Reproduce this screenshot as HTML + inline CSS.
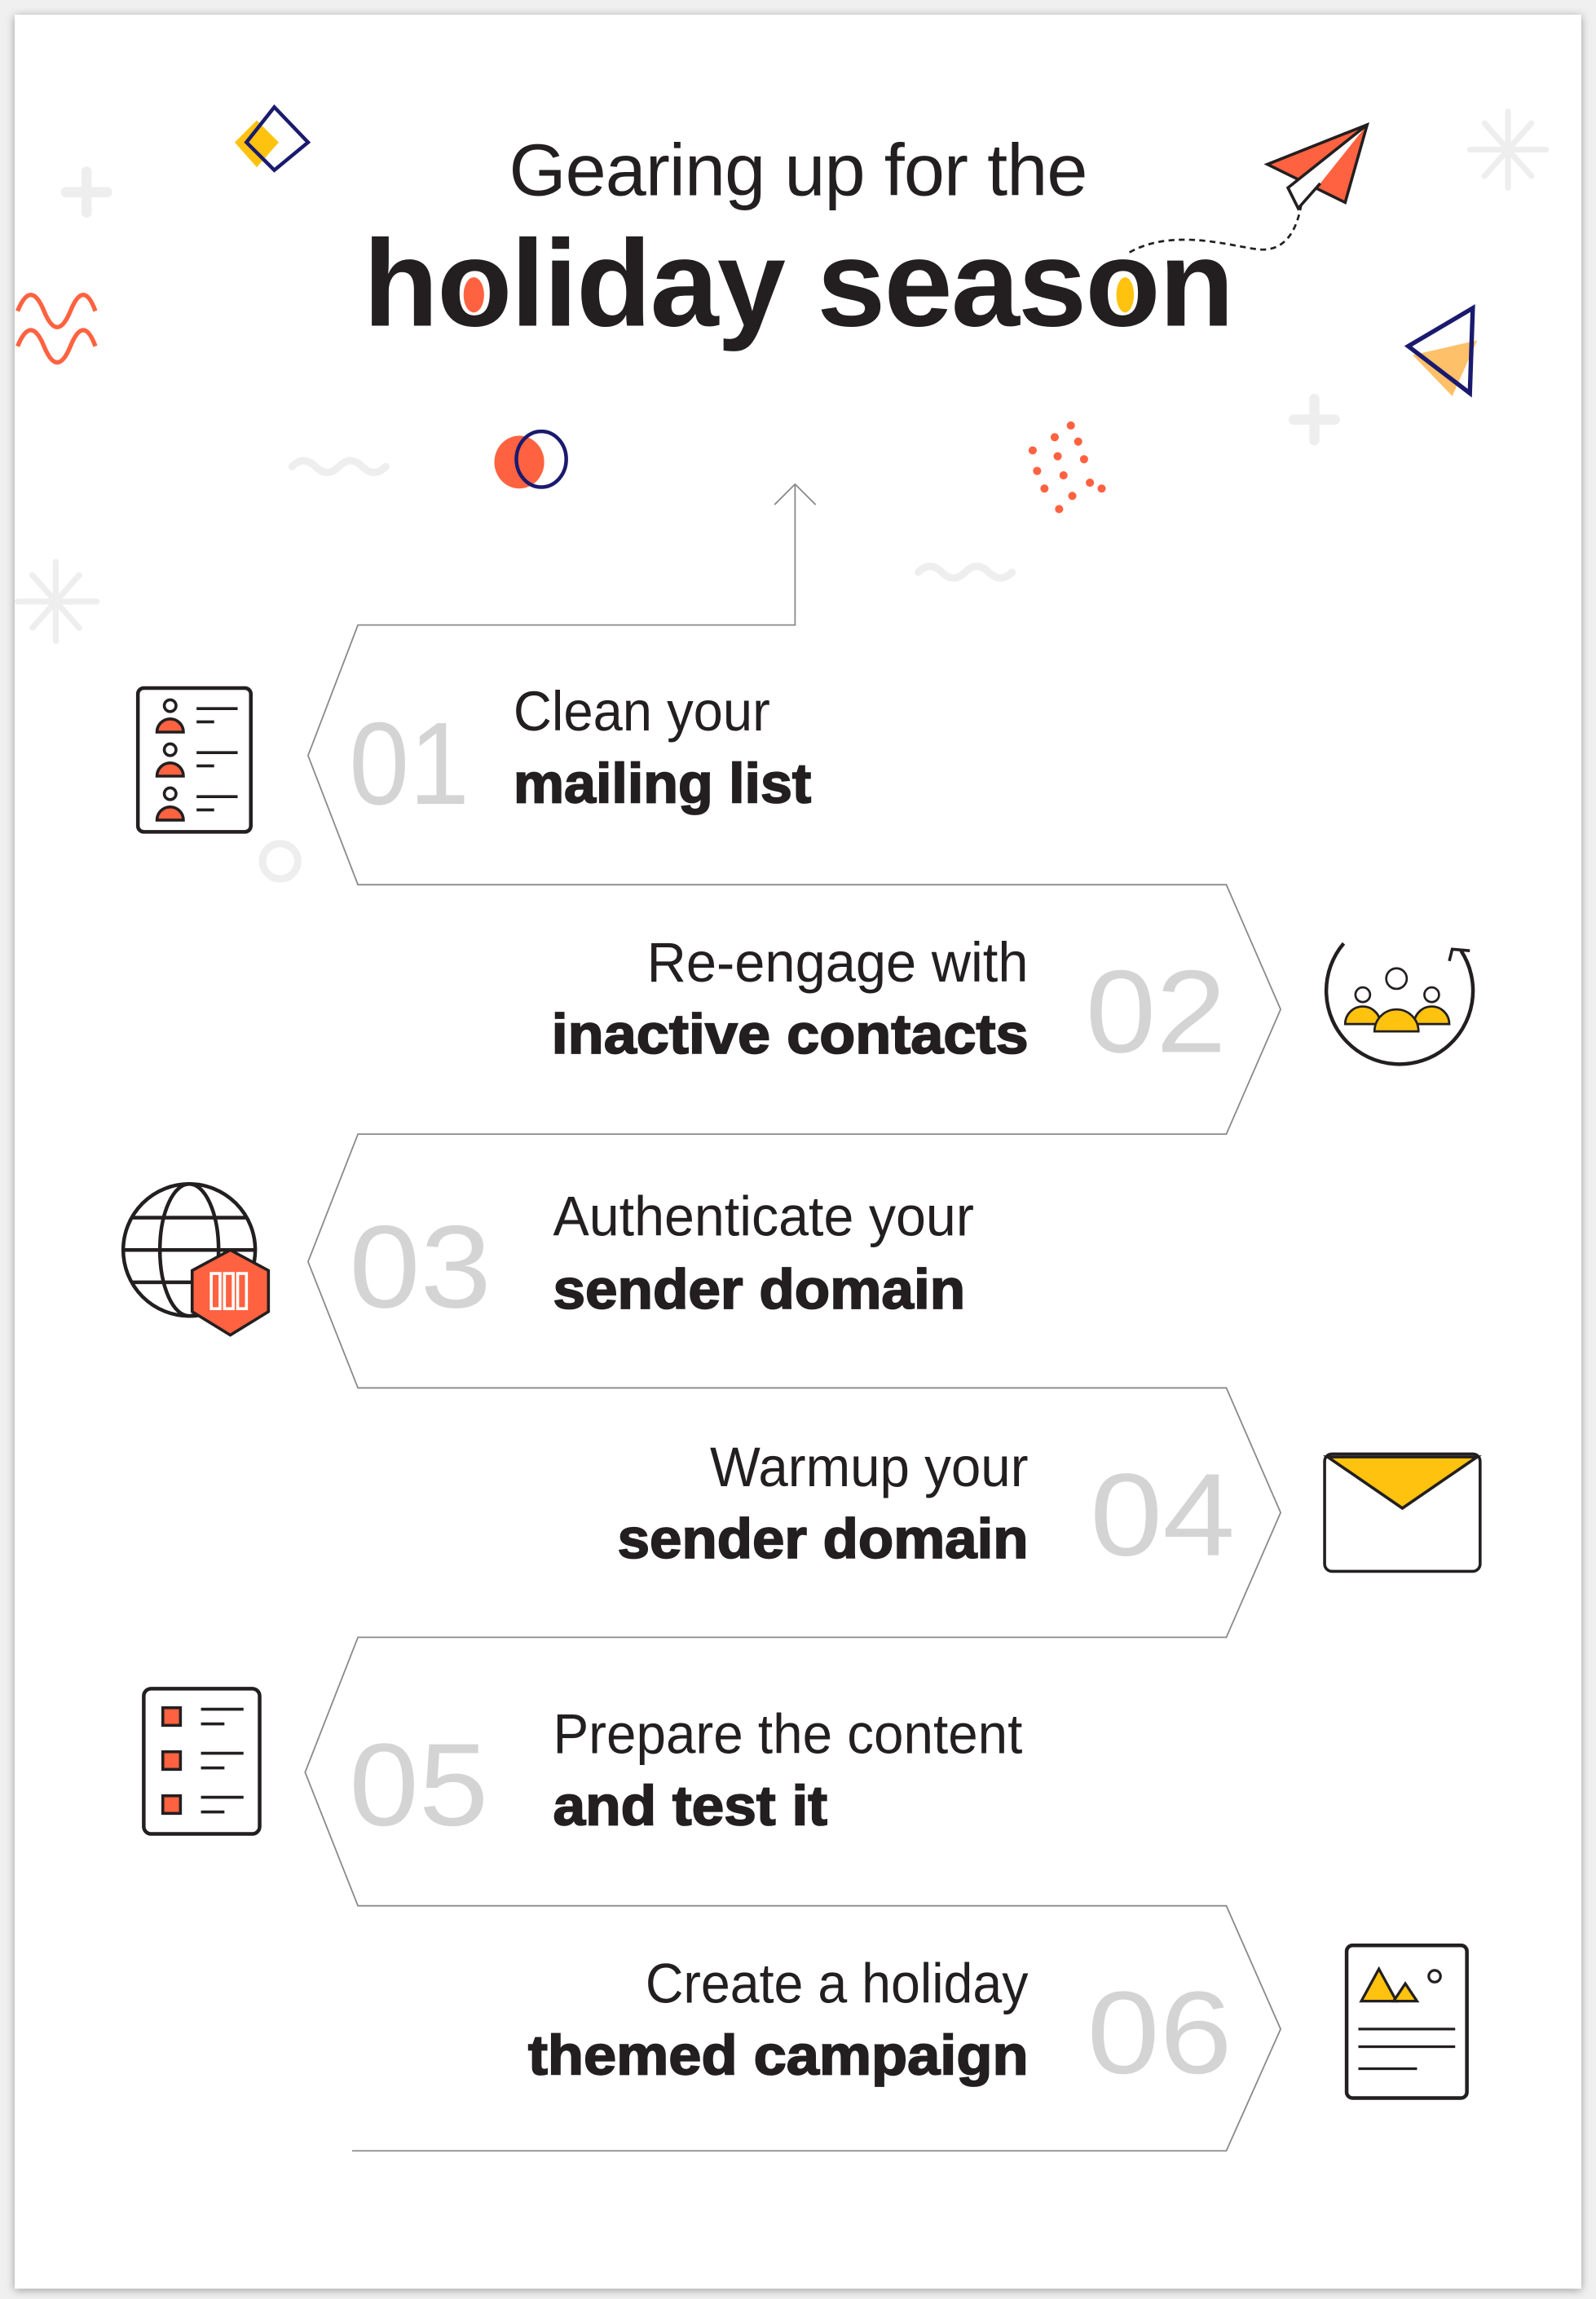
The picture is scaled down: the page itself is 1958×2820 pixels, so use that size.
<!DOCTYPE html>
<html><head><meta charset="utf-8"><style>
html,body{margin:0;padding:0;background:#ececec;}
svg{display:block;}
text{font-family:"Liberation Sans",sans-serif;}
</style></head><body>
<svg width="1958" height="2820" viewBox="0 0 1088 1567" preserveAspectRatio="none" xmlns="http://www.w3.org/2000/svg">
<defs>
<filter id="sh" x="-5%" y="-5%" width="110%" height="110%"><feGaussianBlur stdDeviation="3"/></filter>
</defs>
<rect x="0" y="0" width="1088" height="1567" fill="#f0f0f0"/>
<rect x="10" y="11" width="1068" height="1550" fill="#9a9a9a" filter="url(#sh)"/>
<rect x="10" y="10" width="1068" height="1550" fill="#ffffff"/>

<!-- title -->
<text x="544" y="133" font-size="50" text-anchor="middle" fill="#231f20" font-weight="300" letter-spacing="-0.5">Gearing up for the</text>
<text x="544" y="222" font-size="84" text-anchor="middle" fill="#231f20" font-weight="bold" letter-spacing="-1">holiday season</text>
<ellipse cx="323" cy="201" rx="7" ry="12" fill="#ff6240"/>
<ellipse cx="767" cy="201" rx="6" ry="12" fill="#ffc20e"/>

<!-- decorations -->
<polygon points="175,82 190,97 175,114 160,97" fill="#ffc20e"/>
<polygon points="187,73 210,97 187,116 168,97" fill="none" stroke="#1a1a6e" stroke-width="2.5"/>
<g stroke="#eeeeee" stroke-width="7" stroke-linecap="round"><line x1="59" y1="117" x2="59" y2="145"/><line x1="45" y1="131" x2="73" y2="131"/>
<line x1="896" y1="272" x2="896" y2="300"/><line x1="882" y1="286" x2="910" y2="286"/></g>
<path d="M12,212 q9,-22 18,0 q9,22 18,0 q9,-22 17,0 M12,236 q9,-22 18,0 q9,22 18,0 q9,-22 17,0" fill="none" stroke="#ff6240" stroke-width="3"/>
<g stroke="#eeeeee" stroke-width="4" stroke-linecap="round">
<line x1="1028" y1="76" x2="1028" y2="128"/><line x1="1002" y1="102" x2="1054" y2="102"/><line x1="1012" y1="84" x2="1044" y2="120"/><line x1="1044" y1="84" x2="1012" y2="120"/>
<line x1="38" y1="383" x2="38" y2="437"/><line x1="12" y1="410" x2="66" y2="410"/><line x1="22" y1="392" x2="54" y2="428"/><line x1="54" y1="392" x2="22" y2="428"/>
</g>
<g fill="none" stroke="#eeeeee" stroke-width="5" stroke-linecap="round">
<path d="M199,318 q8,-8 16,0 q8,8 16,0 q8,-8 16,0 q8,8 16,0"/>
<path d="M626,390 q8,-8 16,0 q8,8 16,0 q8,-8 16,0 q8,8 16,0"/>
<circle cx="191" cy="587" r="12"/>
</g>
<!-- plane -->
<path d="M770,172 C800,155 840,168 858,170 C880,172 885,150 887,140" fill="none" stroke="#231f20" stroke-width="1.5" stroke-dasharray="4,3"/>
<polygon points="864,112 932,85 917,138" fill="#ff6240" stroke="#231f20" stroke-width="2"/>
<polyline points="932,85 878,128 885,142 900,125" fill="#fff" stroke="#231f20" stroke-width="2"/>
<!-- triangle -->
<polygon points="1007,232 990,270 963,242" fill="#ffc06a"/>
<polygon points="1004,210 1002,268 960,236" fill="none" stroke="#1a1a6e" stroke-width="3"/>
<!-- circles -->
<ellipse cx="354" cy="315" rx="17" ry="18" fill="#ff6240"/>
<ellipse cx="369" cy="313" rx="17" ry="19" fill="none" stroke="#1a1a6e" stroke-width="2.5"/>
<g fill="#ff6240">
<circle cx="730" cy="290" r="2.8"/><circle cx="719" cy="298" r="2.8"/><circle cx="735" cy="301" r="2.8"/><circle cx="704" cy="307" r="2.8"/><circle cx="721" cy="311" r="2.8"/><circle cx="739" cy="313" r="2.8"/><circle cx="707" cy="321" r="2.8"/><circle cx="725" cy="324" r="2.8"/><circle cx="743" cy="329" r="2.8"/><circle cx="712" cy="333" r="2.8"/><circle cx="731" cy="338" r="2.8"/><circle cx="751" cy="333" r="2.8"/><circle cx="722" cy="347" r="2.8"/>
</g>

<!-- zigzag -->
<g fill="none" stroke="#8a8a8a" stroke-width="1">
<polyline points="542,330 542,426 244,426 210,515 244,603 836,603 873,688 836,773 244,773 210,860 244,946 836,946 873,1031 836,1116 244,1116 208,1208 244,1299 836,1299 873,1383 836,1466 240,1466"/>
<polyline points="528,344 542,330 556,344"/>
</g>

<!-- numbers -->
<g fill="#d4d4d4" font-size="80" lengthAdjust="spacingAndGlyphs">
<text x="238" y="548" textLength="82" lengthAdjust="spacingAndGlyphs">01</text>
<text x="740" y="717" textLength="96" lengthAdjust="spacingAndGlyphs">02</text>
<text x="238" y="891" textLength="97" lengthAdjust="spacingAndGlyphs">03</text>
<text x="743" y="1060" textLength="99" lengthAdjust="spacingAndGlyphs">04</text>
<text x="238" y="1244" textLength="95" lengthAdjust="spacingAndGlyphs">05</text>
<text x="741" y="1413" textLength="99" lengthAdjust="spacingAndGlyphs">06</text>
</g>
<g fill="#231f20" font-size="38">
<text x="350" y="498" textLength="175" lengthAdjust="spacingAndGlyphs">Clean your</text>
<text x="441" y="669" textLength="260" lengthAdjust="spacingAndGlyphs">Re-engage with</text>
<text x="377" y="842" textLength="287" lengthAdjust="spacingAndGlyphs">Authenticate your</text>
<text x="484" y="1013" textLength="217" lengthAdjust="spacingAndGlyphs">Warmup your</text>
<text x="377" y="1195" textLength="320" lengthAdjust="spacingAndGlyphs">Prepare the content</text>
<text x="440" y="1365" textLength="261" lengthAdjust="spacingAndGlyphs">Create a holiday</text>
</g>
<g fill="#231f20" font-size="38" font-weight="bold" stroke="#231f20" stroke-width="1">
<text x="350" y="547" textLength="203" lengthAdjust="spacingAndGlyphs">mailing list</text>
<text x="376" y="718" textLength="325" lengthAdjust="spacingAndGlyphs">inactive contacts</text>
<text x="377" y="892" textLength="281" lengthAdjust="spacingAndGlyphs">sender domain</text>
<text x="421" y="1062" textLength="280" lengthAdjust="spacingAndGlyphs">sender domain</text>
<text x="377" y="1244" textLength="187" lengthAdjust="spacingAndGlyphs">and test it</text>
<text x="360" y="1414" textLength="341" lengthAdjust="spacingAndGlyphs">themed campaign</text>
</g>

<!-- icon 1 -->
<rect x="94" y="469" width="77" height="98" rx="4" fill="#fff" stroke="#231f20" stroke-width="2.5"/>
<g stroke="#231f20" stroke-width="2">
<circle cx="116" cy="481" r="4" fill="#fff"/><path d="M107,499 a9,9 0 0 1 18,0 z" fill="#ff6240"/>
<circle cx="116" cy="511" r="4" fill="#fff"/><path d="M107,529 a9,9 0 0 1 18,0 z" fill="#ff6240"/>
<circle cx="116" cy="541" r="4" fill="#fff"/><path d="M107,559 a9,9 0 0 1 18,0 z" fill="#ff6240"/>
<line x1="134" y1="483" x2="162" y2="483"/><line x1="134" y1="492" x2="146" y2="492"/>
<line x1="134" y1="513" x2="162" y2="513"/><line x1="134" y1="522" x2="146" y2="522"/>
<line x1="134" y1="543" x2="162" y2="543"/><line x1="134" y1="552" x2="146" y2="552"/>
</g>
<!-- icon 2 -->
<path d="M916,643 A50,50 0 1 0 996,648" fill="none" stroke="#231f20" stroke-width="2.5"/>
<polyline points="988,655 990,647 1002,648" fill="none" stroke="#231f20" stroke-width="2"/>
<g stroke="#231f20" stroke-width="1.5">
<circle cx="929" cy="678" r="5" fill="#fff"/><circle cx="976" cy="678" r="5" fill="#fff"/><circle cx="952" cy="667" r="7" fill="#fff"/>
<path d="M917,698 a12,12 0 0 1 24,0 z" fill="#ffc20e"/><path d="M964,698 a12,12 0 0 1 24,0 z" fill="#ffc20e"/>
<path d="M937,703 a15,15 0 0 1 30,0 z" fill="#ffc20e"/>
</g>
<!-- icon 3 -->
<g fill="none" stroke="#231f20" stroke-width="2.5">
<circle cx="129" cy="852" r="45"/><ellipse cx="129" cy="852" rx="20" ry="45"/>
<line x1="84" y1="852" x2="174" y2="852"/><path d="M90,830 h78 M90,874 h78"/>
</g>
<polygon points="157,852 183,866 183,894 157,910 131,894 131,866" fill="#ff6240" stroke="#231f20" stroke-width="2"/>
<g fill="none" stroke="#fff" stroke-width="2"><rect x="144" y="868" width="6" height="24"/><rect x="153" y="868" width="6" height="24"/><rect x="162" y="868" width="6" height="24"/></g>
<!-- icon 4 -->
<rect x="903" y="991" width="106" height="80" rx="5" fill="#fff" stroke="#231f20" stroke-width="2"/>
<path d="M905,993 L956,1028 L1007,993 Z" fill="#ffc20e" stroke="#231f20" stroke-width="2"/>
<!-- icon 5 -->
<rect x="98" y="1151" width="79" height="99" rx="5" fill="#fff" stroke="#231f20" stroke-width="2.5"/>
<g stroke="#231f20" stroke-width="2">
<rect x="111" y="1164" width="12" height="12" fill="#ff6240"/><rect x="111" y="1194" width="12" height="12" fill="#ff6240"/><rect x="111" y="1224" width="12" height="12" fill="#ff6240"/>
<line x1="137" y1="1165" x2="166" y2="1165"/><line x1="137" y1="1175" x2="153" y2="1175"/>
<line x1="137" y1="1195" x2="166" y2="1195"/><line x1="137" y1="1205" x2="153" y2="1205"/>
<line x1="137" y1="1225" x2="166" y2="1225"/><line x1="137" y1="1235" x2="153" y2="1235"/>
</g>
<!-- icon 6 -->
<rect x="918" y="1326" width="82" height="104" rx="4" fill="#fff" stroke="#231f20" stroke-width="2.5"/>
<g stroke="#231f20" stroke-width="1.8">
<polygon points="928,1364 940,1342 952,1364" fill="#ffc20e"/><polygon points="950,1364 958,1352 966,1364" fill="#ffc20e"/>
<circle cx="978" cy="1347" r="4" fill="#fff"/>
<line x1="926" y1="1383" x2="992" y2="1383"/><line x1="926" y1="1395" x2="992" y2="1395"/><line x1="926" y1="1410" x2="966" y2="1410"/>
</g>
</svg>
</body></html>
